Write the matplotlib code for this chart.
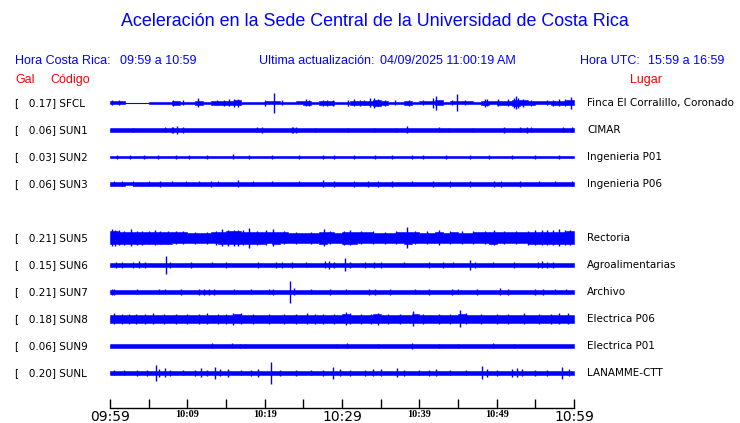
# Aceleracion - Sede Central UCR, trazas de 60 minutos por estacion
import matplotlib
matplotlib.use('Agg')
import matplotlib.pyplot as plt
import numpy as np

# estaciones
codes = ['SFCL', 'SUN1', 'SUN2', 'SUN3', 'SUN5', 'SUN6', 'SUN7', 'SUN8', 'SUN9', 'SUNL']
gal = [0.17, 0.06, 0.03, 0.06, 0.21, 0.15, 0.21, 0.18, 0.06, 0.20]
places = ['Finca El Corralillo, Coronado', 'CIMAR', 'Ingenieria P01', 'Ingenieria P06',
          'Rectoria', 'Agroalimentarias', 'Archivo', 'Electrica P06', 'Electrica P01',
          'LANAMME-CTT']
rows = [0, 1, 2, 3, 5, 6, 7, 8, 9, 10]  # fila 4 vacia (SUN4 sin datos)

# envolvente por minuto (semi-amplitud) y picos (minuto, amplitud)
env_sfcl = [1.5, 1.5, 0.3, 0.3, 0.3, 1.4, 1.4, 1.4, 1.6, 1.4,
            1.4, 2.2, 1.4, 1.6, 2.0, 2.2, 2.5, 1.4, 1.4, 1.4,
            1.5, 1.5, 1.4, 1.4, 1.5, 2.2, 1.4, 2.0, 2.0, 1.4,
            1.4, 2.0, 1.8, 2.0, 2.8, 2.0, 1.4, 1.4, 1.8, 1.4,
            1.5, 1.5, 2.5, 1.4, 1.5, 1.5, 1.5, 1.4, 2.2, 1.5,
            2.2, 2.2, 2.8, 2.5, 1.8, 1.5, 1.5, 2.0, 2.2, 2.5]
spikes_sfcl = [(0.3, 2.5), (1.2, 2.5), (8.2, 3), (9.4, 2.5), (11.4, 4.5), (13.8, 2.5),
               (14.7, 3), (15.4, 3.5), (16.0, 4), (16.6, 4), (20.0, 3), (21.2, 10),
               (22.3, 2.5), (25.4, 3.5), (25.7, 3), (27.6, 3), (28.1, 3), (28.9, 3),
               (30.8, 3), (31.6, 3.5), (32.3, 3), (32.8, 2.5), (33.6, 4.5), (34.1, 5),
               (34.7, 3.5), (35.6, 3), (36.9, 2.5), (38.7, 3), (40.5, 2.5), (41.8, 5),
               (42.2, 7), (44.2, 2.5), (44.9, 8.5), (45.9, 2.5), (48.5, 4), (48.8, 3.5),
               (50.2, 3.5), (51.5, 3.5), (52.2, 5), (52.5, 6.5), (52.8, 5), (53.4, 4),
               (54.5, 3), (56.5, 2.5), (57.3, 3), (58.0, 3.5), (58.8, 3.5), (59.6, 6)]

env_sun1 = [1.6, 1.6, 1.6, 1.6, 1.6, 1.6, 1.6, 1.6, 2.2, 1.7,
            1.6, 1.6, 1.6, 1.6, 1.6, 1.6, 1.6, 1.6, 1.6, 2.0,
            1.6, 1.6, 1.6, 2.0, 1.9, 1.6, 1.6, 1.6, 1.6, 1.6,
            1.6, 1.6, 1.6, 1.6, 1.6, 1.6, 1.6, 1.6, 1.7, 1.6,
            1.6, 1.6, 1.7, 1.6, 1.6, 1.6, 1.6, 1.6, 1.6, 1.6,
            1.7, 1.6, 1.7, 2.0, 1.9, 1.6, 1.6, 1.6, 1.7, 1.7]
spikes_sun1 = [(7.1, 2.5), (8.0, 3), (8.2, 2.8), (8.6, 3.8), (9.5, 3), (19.0, 2.5),
               (19.6, 2.8), (23.5, 3), (23.7, 2.8), (24.1, 3), (26.5, 2.2), (30.8, 2.2),
               (34.2, 2.2), (37.0, 2.2), (38.4, 3.5), (42.5, 2.5), (43.8, 2.2), (47.0, 2.2),
               (50.9, 2.8), (53.0, 2.5), (53.9, 3), (54.5, 2.5), (58.6, 2.5), (59.7, 2.5),
               (3.0, 2.2)]

env_sun2 = [0.8, 1.2, 1.0, 1.2, 0.9, 1.2, 1.3, 1.0, 1.2, 1.1,
            1.2, 1.0, 1.1, 1.3, 1.2, 1.4, 1.1, 1.2, 1.0, 1.1,
            0.9, 1.1, 1.0, 0.8, 1.2, 1.0, 1.2, 1.3, 1.1, 1.0,
            1.2, 1.1, 0.9, 1.1, 1.3, 1.2, 1.0, 1.1, 1.0, 1.2,
            1.1, 1.2, 1.1, 1.3, 1.2, 1.2, 1.3, 1.2, 1.2, 1.1,
            1.2, 1.2, 1.1, 1.0, 1.2, 1.2, 1.2, 0.9, 1.0, 1.1]
spikes_sun2 = [(0.9, 1.8), (2.6, 1.8), (4.4, 1.8), (6.2, 1.8), (8.5, 1.8), (10.2, 1.8),
               (12.5, 1.8), (15.9, 2.5), (18.0, 1.8), (21.0, 1.8), (24.5, 1.8), (27.5, 1.8),
               (29.0, 1.8), (31.5, 1.8), (34.3, 2.3), (36.5, 1.8), (39.0, 1.8), (40.5, 1.8),
               (43.5, 1.8), (46.5, 1.8), (49.0, 1.8), (52.0, 1.8), (55.0, 1.8), (58.0, 1.8)]

env_sun3 = [1.6, 1.8, 1.5, 1.8, 1.6, 1.9, 2.0, 1.8, 2.2, 2.0,
            1.9, 2.0, 1.8, 2.2, 1.9, 2.1, 2.3, 1.9, 1.8, 1.6,
            1.8, 1.7, 1.6, 1.8, 1.7, 1.9, 1.6, 2.3, 1.8, 1.8,
            1.8, 2.0, 1.8, 2.2, 2.2, 1.8, 2.0, 1.9, 1.8, 2.0,
            1.8, 2.0, 2.0, 1.9, 2.0, 2.0, 2.1, 2.0, 2.1, 2.2,
            2.0, 2.1, 2.2, 2.0, 2.1, 2.0, 2.0, 2.0, 2.1, 2.1]
spikes_sun3 = [(0.5, 2.5), (1.5, 2.5), (3.0, 2.5), (5.0, 2.5), (6.5, 2.8), (8.0, 2.5),
               (9.8, 2.5), (11.5, 2.5), (13.1, 3.2), (14.0, 2.5), (16.5, 3.5), (18.5, 2.5),
               (21.0, 2.5), (24.5, 2.5), (27.6, 3.5), (29.0, 2.8), (31.5, 2.8), (33.4, 3.3),
               (34.7, 3.3), (36.5, 2.8), (39.0, 2.5), (41.8, 2.8), (44.0, 2.8), (46.5, 2.8),
               (49.6, 3.0), (50.5, 2.8), (53.0, 2.8), (55.5, 2.5), (57.5, 2.5), (59.8, 2.5)]

env_sun5 = [6.5, 6.0, 6.0, 5.8, 5.8, 5.8, 5.8, 5.8, 5.5, 5.5,
            5.0, 5.0, 5.0, 5.5, 6.3, 6.5, 6.5, 6.3, 6.3, 5.8,
            5.5, 5.8, 5.5, 5.0, 5.0, 5.0, 5.0, 5.8, 5.5, 5.0,
            5.8, 6.0, 5.5, 5.5, 5.0, 5.0, 5.0, 5.5, 6.0, 5.5,
            5.0, 5.0, 5.5, 5.0, 5.5, 5.0, 5.0, 5.5, 5.5, 5.8,
            5.5, 5.5, 5.5, 5.5, 5.8, 6.3, 6.3, 6.3, 6.3, 6.5]
spikes_sun5 = [(0.3, 8.5), (0.6, 8), (1.2, 7.5), (1.8, 7), (2.7, 8.5), (3.5, 7), (4.2, 7),
               (5.0, 6.5), (5.8, 7.5), (6.5, 6.5), (7.5, 6.5), (8.5, 6.5), (9.5, 6.5),
               (11.0, 6), (12.5, 6), (13.7, 7), (14.5, 8.5), (15.2, 8), (16.0, 8), (16.5, 8),
               (17.2, 7.5), (18.0, 10), (19.0, 7), (20.2, 7.5), (21.1, 8.5), (22.5, 6.5),
               (24.0, 6), (26.0, 6), (27.7, 8.5), (28.5, 6.5), (30.2, 7), (31.0, 7.5),
               (32.5, 6.5), (34.0, 6.5), (35.5, 6), (37.0, 6.5), (38.4, 10.5), (39.5, 6.5),
               (41.0, 6.5), (42.5, 7.5), (44.0, 6.5), (45.5, 6.5), (47.0, 6.5), (48.5, 6.5),
               (49.6, 7.5), (51.0, 6.5), (52.5, 6.5), (54.0, 7), (55.0, 7.5), (55.8, 7.5),
               (56.5, 7.5), (57.3, 7.5), (58.0, 8.5), (58.8, 7.5), (59.5, 7.5)]

env_sun6 = [1.8, 2.2, 1.8, 2.2, 2.2, 1.8, 1.8, 2.4, 1.9, 1.8,
            2.2, 1.8, 1.8, 2.1, 1.8, 2.2, 1.8, 1.8, 1.9, 2.2,
            1.8, 2.1, 2.2, 2.2, 1.8, 2.1, 1.8, 1.9, 2.4, 2.3,
            2.0, 2.2, 1.8, 2.2, 2.3, 2.2, 1.8, 1.8, 2.1, 1.8,
            1.9, 2.3, 1.8, 2.2, 2.1, 1.8, 2.4, 2.3, 1.8, 2.1,
            2.1, 1.8, 2.2, 1.8, 1.9, 2.2, 2.3, 2.2, 1.9, 1.9]
spikes_sun6 = [(0.8, 2.8), (1.5, 2.8), (3.0, 2.8), (3.8, 3.5), (4.5, 2.8), (7.2, 9),
               (7.8, 3), (10.5, 2.8), (13.2, 2.5), (15.0, 2.8), (19.2, 2.8), (21.5, 2.8),
               (22.3, 2.8), (23.5, 3), (25.3, 2.5), (27.8, 3.5), (28.3, 4), (29.0, 3.2),
               (30.4, 6.5), (31.0, 3), (33.0, 2.8), (34.2, 3), (35.0, 2.8), (38.0, 2.5),
               (41.2, 3), (43.0, 2.8), (44.3, 2.5), (46.5, 5), (47.2, 3), (49.5, 2.5),
               (52.3, 2.8), (55.3, 3), (55.8, 3.5), (56.5, 3), (57.3, 2.8)]

env_sun7 = [2.2, 1.8, 1.8, 2.1, 1.8, 1.8, 2.1, 2.1, 1.8, 2.1,
            1.8, 2.2, 2.4, 2.2, 2.1, 1.8, 2.1, 1.8, 2.1, 1.8,
            1.8, 2.3, 1.8, 2.2, 2.1, 1.8, 2.1, 1.8, 2.1, 1.8,
            2.1, 1.8, 2.1, 1.8, 2.4, 1.8, 2.2, 1.8, 1.8, 2.1,
            1.8, 2.2, 2.1, 1.8, 2.2, 2.1, 1.8, 2.2, 1.8, 1.8,
            2.4, 2.2, 2.1, 1.8, 1.8, 2.3, 2.2, 2.1, 1.8, 2.1]
spikes_sun7 = [(0.3, 3), (0.5, 3), (3.5, 2.5), (6.3, 2.5), (7.1, 2.5), (9.2, 2.8),
               (11.5, 2.8), (12.2, 3.3), (12.8, 3), (13.5, 2.8), (16.0, 2.5), (18.2, 2.5),
               (20.5, 2.5), (21.1, 3), (23.3, 11), (23.8, 3.5), (26.0, 2.5), (28.5, 2.8),
               (30.5, 2.5), (33.5, 2.8), (34.3, 3.2), (36.2, 2.8), (39.5, 2.5), (41.2, 2.8),
               (44.2, 2.8), (45.0, 2.5), (47.5, 2.8), (50.4, 3.5), (51.5, 2.8), (55.0, 3),
               (56.0, 2.8), (57.5, 2.5), (59.0, 2.5)]

env_sun8 = [4.3, 4.3, 4.0, 4.0, 4.0, 4.3, 4.0, 4.3, 4.0, 4.3,
            4.0, 4.0, 4.3, 4.0, 4.0, 4.3, 4.5, 4.3, 4.0, 4.0,
            4.0, 4.0, 4.0, 4.3, 4.0, 4.3, 4.3, 4.3, 4.0, 4.3,
            4.5, 4.3, 4.0, 4.0, 4.5, 4.3, 4.3, 4.0, 4.0, 4.5,
            4.3, 4.0, 4.0, 4.0, 4.0, 4.5, 4.3, 4.0, 4.0, 4.0,
            4.0, 4.0, 4.0, 4.0, 4.0, 4.3, 4.0, 4.3, 4.3, 4.3]
spikes_sun8 = [(0.5, 5.5), (1.5, 5), (2.5, 5), (3.4, 5), (4.5, 4.8), (5.5, 5.5), (7.0, 5),
               (8.5, 4.8), (10.0, 5), (11.5, 5), (12.5, 5.5), (14.0, 5), (15.0, 5),
               (15.9, 6), (17.0, 5.5), (18.5, 5), (20.5, 5), (22.5, 5), (24.0, 5),
               (25.5, 5.5), (26.5, 5), (27.5, 5), (29.0, 5), (30.5, 6.5), (31.0, 5.5),
               (32.5, 5), (33.8, 5), (34.7, 6), (36.0, 5), (37.5, 5), (39.2, 7.5),
               (40.5, 5), (42.5, 5), (44.0, 5), (45.3, 8.5), (46.0, 5.5), (48.0, 5),
               (50.0, 5), (51.5, 5), (53.5, 5.5), (55.5, 5), (57.0, 5), (58.0, 5.5),
               (59.2, 5.5)]

env_sun9 = [1.8] * 60
spikes_sun9 = [(13.2, 2.5), (15.8, 2.5), (16.8, 2.2), (17.5, 2.2), (29.3, 2.2), (30.6, 2.5),
               (34.7, 2.2), (39.1, 3.3), (42.5, 2.2), (45.0, 2.2), (49.5, 2.5), (52.2, 2.2)]

env_sunl = [1.8, 1.8, 1.8, 2.1, 1.8, 2.3, 2.3, 2.2, 1.8, 1.8,
            2.1, 1.8, 2.1, 2.3, 2.2, 2.3, 1.8, 1.8, 2.1, 1.8,
            2.3, 2.2, 1.8, 1.8, 2.1, 1.8, 1.8, 1.8, 2.2, 2.2,
            2.1, 1.8, 1.8, 2.1, 2.2, 2.1, 1.8, 2.1, 2.1, 1.8,
            1.8, 1.8, 2.1, 2.1, 1.8, 1.8, 1.8, 1.8, 2.3, 2.2,
            1.8, 1.8, 2.3, 2.3, 2.1, 2.1, 1.8, 1.8, 2.3, 2.2]
spikes_sunl = [(0.5, 2.5), (1.8, 2.5), (3.5, 3), (4.8, 3), (5.9, 8), (6.4, 4), (7.1, 4.5),
               (7.8, 3), (9.5, 2.5), (11.0, 3), (11.8, 4.5), (12.5, 3), (13.6, 6),
               (14.2, 3.5), (15.3, 4), (17.0, 2.5), (18.2, 3), (19.2, 4), (20.8, 11),
               (22.0, 3), (24.0, 3), (26.0, 2.5), (27.5, 3), (28.9, 6), (29.8, 3.5),
               (31.0, 3), (33.0, 3), (34.0, 3.5), (35.0, 3.5), (37.1, 4.5), (38.0, 3),
               (40.0, 2.5), (41.2, 3), (42.2, 3.5), (44.0, 2.5), (46.0, 2.5), (48.1, 6.5),
               (48.7, 4), (50.0, 3), (52.0, 4), (52.6, 4.5), (53.3, 3.5), (55.0, 3),
               (56.5, 3), (58.5, 6), (59.3, 3.5)]

envs = [env_sfcl, env_sun1, env_sun2, env_sun3, env_sun5, env_sun6, env_sun7, env_sun8,
        env_sun9, env_sunl]
spikes = [spikes_sfcl, spikes_sun1, spikes_sun2, spikes_sun3, spikes_sun5, spikes_sun6,
          spikes_sun7, spikes_sun8, spikes_sun9, spikes_sunl]

tick_min = list(range(0, 61, 5))
tick_lab = ['09:59', '', '10:09', '', '10:19', '', '10:29', '', '10:39', '', '10:49', '', '10:59']

BLUE = '#0000ff'
RED = '#ff0000'
W, H = 740, 423

fig = plt.figure(figsize=(W / 100, H / 100), dpi=100)


def ftext(x, y, s, **kw):
    # texto en coordenadas de pixel (origen arriba a la izquierda)
    return fig.text(x / W, 1 - y / H, s, **kw)


# encabezado
ftext(375, 22, 'Aceleración en la Sede Central de la Universidad de Costa Rica',
      color=BLUE, fontsize=12.9, family='Liberation Sans', ha='center', va='center')
hdr = dict(color=BLUE, fontsize=9, family='Liberation Sans', va='center')
ftext(15, 61, 'Hora Costa Rica:', **hdr)
ftext(120, 61, '09:59 a 10:59', **hdr)
ftext(259, 61, 'Ultima actualización:', **hdr)
ftext(380, 61, '04/09/2025 11:00:19 AM', **hdr)
ftext(580, 61, 'Hora UTC:', **hdr)
ftext(724, 61, '15:59 a 16:59', ha='right', **hdr)
red = dict(color=RED, fontsize=9, family='Liberation Sans', va='center')
ftext(15, 80, 'Gal', **red)
ftext(50, 80, 'Código', **red)
ftext(646, 80, 'Lugar', ha='center', **red)

# trazas
ax = fig.add_axes([110 / W, 0, 464 / W, 1])
ax.set_xlim(0, 60)
ax.set_ylim(H, 0)
ax.axis('off')

t = np.arange(61)
for code, g, place, row, env, spk in zip(codes, gal, places, rows, envs, spikes):
    yc = 103 + 27 * row
    e = np.append(env, env[-1])
    ax.fill_between(t, yc - e, yc + e, step='post', facecolor=BLUE, edgecolor=BLUE,
                    lw=0.4, antialiased=False)
    ax.hlines(yc, 0, 60, color=BLUE, lw=0.8)
    st, sa = zip(*spk)
    ax.vlines(st, yc - np.array(sa), yc + np.array(sa), color=BLUE, lw=1.0)
    ftext(15, yc, '[   %.2f] %s' % (g, code), fontsize=7.5, family='DejaVu Sans',
          va='center')
    ftext(587, yc, place, fontsize=7.5, family='DejaVu Sans', va='center')

# eje de tiempo
axt = fig.add_axes([110 / W, 1 - 408 / H, 464 / W, 0.0001])
axt.set_xlim(0, 60)
axt.set_yticks([])
for s in ['top', 'left', 'right']:
    axt.spines[s].set_visible(False)
axt.spines['bottom'].set_linewidth(1.0)
axt.set_xticks(tick_min)
axt.set_xticklabels(tick_lab)
axt.tick_params(axis='x', direction='in', length=6.5, width=1.0, pad=1.5)
for lab in axt.get_xticklabels():
    if lab.get_text() in ('09:59', '10:29', '10:59'):
        lab.set_fontsize(10)
        lab.set_family('DejaVu Sans')
    else:
        lab.set_fontsize(7.4)
        lab.set_family('Liberation Serif')
        lab.set_fontweight('bold')

fig.savefig('out.png', dpi=100)
